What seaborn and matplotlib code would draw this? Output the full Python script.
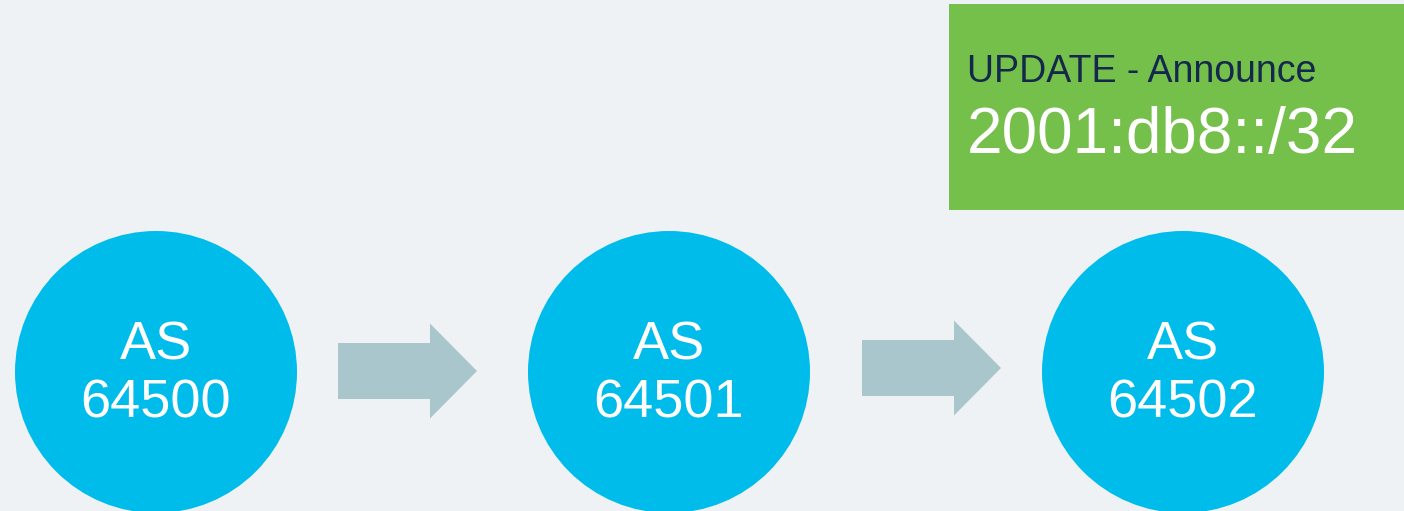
import seaborn as sns
import matplotlib.patches as mpatches
from matplotlib import pyplot as plt

# the chain of autonomous systems and the announced prefix
as_names = ['AS', 'AS', 'AS']
as_numbers = ['64500', '64501', '64502']
update_kind = 'UPDATE - Announce'
prefix = '2001:db8::/32'

bg = '#eef2f4'
blue = '#00bceb'
grey_arrow = '#a9c6cc'
green = '#75bf4b'
navy = '#14284b'

sns.set_theme(style='white')
plt.rcParams['font.family'] = ['Liberation Sans', 'DejaVu Sans']

fig = plt.figure(figsize=(14.04, 5.11), dpi=100, facecolor=bg)
ax = fig.add_axes([0, 0, 1, 1])
ax.set_facecolor(bg)
ax.set_xlim(0, 1404)
ax.set_ylim(511, 0)
ax.axis('off')

# node layout: centers every 514px
cx = [156, 669, 1183]
cy = 372
r = 141
for x, name, num in zip(cx, as_names, as_numbers):
    ax.add_patch(mpatches.Circle((x, cy), r, color=blue, lw=0))
    ax.text(x, 359, name, color='white', fontsize=39, ha='center', va='baseline')
    ax.text(x, 418, num, color='white', fontsize=39, ha='center', va='baseline')

# arrows between nodes
for x0, x1, y in [(338, 477, 371), (862, 1001, 368)]:
    ax.add_patch(mpatches.FancyArrow(x0, y, x1 - x0, 0, width=56, head_width=95,
                                     head_length=47, length_includes_head=True,
                                     color=grey_arrow, lw=0))

# update message box
ax.add_patch(mpatches.Rectangle((949, 4), 460, 206, color=green, lw=0))
ax.text(967, 82, update_kind, color=navy, fontsize=27, ha='left', va='baseline')
ax.text(967, 153, prefix, color='white', fontsize=46, ha='left', va='baseline')

fig.savefig('out.png', dpi=100, facecolor=bg)
